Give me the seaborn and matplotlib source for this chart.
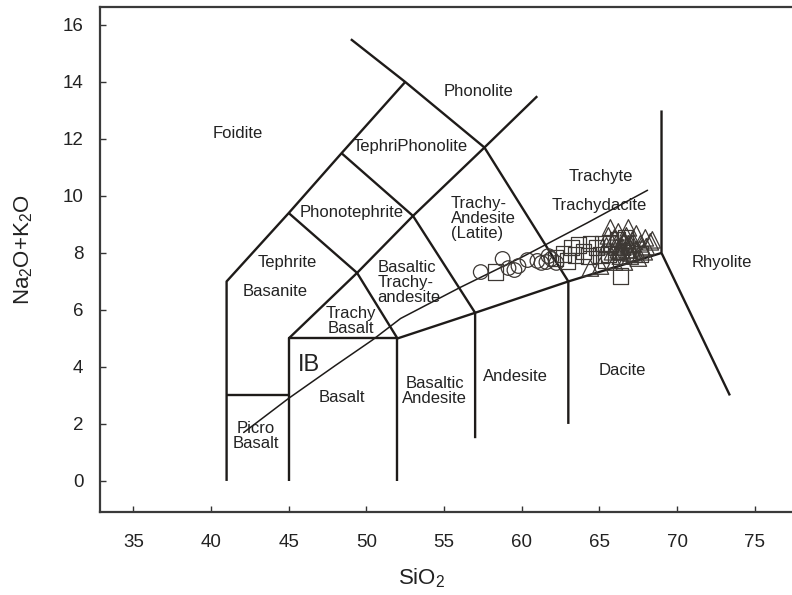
import numpy as np
import pandas as pd
import matplotlib
matplotlib.use("Agg")
import matplotlib.pyplot as plt
import seaborn as sns

# TAS field boundaries (SiO2, Na2O+K2O)
field_lines = [
    [(41, 0), (41, 7), (45, 9.4), (48.4, 11.5), (52.5, 14)],
    [(49, 15.5), (52.5, 14), (57.6, 11.7), (61, 13.5)],
    [(41, 3), (45, 3)],
    [(45, 0), (45, 5), (52, 5), (52, 0)],
    [(45, 9.4), (49.4, 7.3), (53, 9.3), (57.6, 11.7)],
    [(45, 5), (49.4, 7.3), (52, 5)],
    [(52, 5), (57, 5.9), (63, 7), (69, 8)],
    [(48.4, 11.5), (53, 9.3), (57, 5.9), (57, 1.5)],
    [(57.6, 11.7), (63, 7), (63, 2)],
    [(69, 13), (69, 8), (73.4, 3)],
]

# alkaline / subalkaline divide
alk_x = [42.1, 45, 48, 50.4, 52.2, 56, 60, 64.2, 68.1]
alk_y = [1.7, 2.9, 4.05, 4.95, 5.7, 6.78, 7.85, 9.05, 10.2]

field_names = ["Foidite", "Phonolite", "TephriPhonolite", "Phonotephrite",
               "Trachy-\nAndesite\n(Latite)", "Trachyte", "Trachydacite",
               "Tephrite", "Basanite", "Basaltic\nTrachy-\nandesite",
               "Trachy\nBasalt", "Basalt", "Basaltic\nAndesite", "Andesite",
               "Dacite", "Rhyolite", "Picro\nBasalt"]
name_x = [41.74, 57.2, 52.8, 49.04, 55.42, 65.1, 65.0, 44.9, 44.15, 50.7,
          49.0, 48.44, 54.4, 59.6, 66.5, 72.9, 42.9]
name_y = [12.2, 13.68, 11.72, 9.41, 9.21, 10.67, 9.68, 7.68, 6.63, 6.95,
          5.6, 2.92, 3.16, 3.66, 3.89, 7.65, 1.56]
name_ha = ["center"] * 4 + ["left"] + ["center"] * 4 + ["left"] + ["center"] * 7

# samples
circle_x = [57.36, 58.77, 59.15, 59.53, 59.79, 60.37, 61.01, 61.27, 61.59, 61.91, 62.23, 61.72]
circle_y = [7.33, 7.79, 7.47, 7.40, 7.54, 7.75, 7.72, 7.65, 7.68, 7.79, 7.65, 7.89]

square_x = [58.31, 62.17, 62.69, 63.20, 63.65, 63.97, 64.42, 64.81, 65.19, 65.07,
            65.58, 64.29, 63.46, 65.71, 66.35, 66.16, 66.68, 65.39, 67.63, 62.94]
square_y = [7.33, 7.82, 7.96, 8.18, 8.28, 8.04, 8.32, 8.18, 8.32, 7.93,
            7.96, 7.89, 7.93, 8.35, 7.19, 8.46, 8.53, 7.75, 7.96, 7.72]

triangle_x = [65.71, 66.87, 66.22, 67.38, 67.96, 68.28, 67.64, 67.13, 66.61, 65.97,
              65.46, 66.35, 66.87, 67.38, 67.89, 68.41, 65.84, 66.35, 66.99, 67.51,
              66.61, 65.97, 65.07, 64.42, 67.13, 66.74, 66.09, 68.02, 65.58, 66.48,
              67.25, 67.76, 66.87, 66.22, 66.5, 66.9, 66.3, 67.0, 66.6, 66.1]
triangle_y = [8.88, 8.88, 8.74, 8.67, 8.53, 8.39, 8.32, 8.46, 8.39, 8.53,
              8.25, 8.25, 8.11, 8.11, 8.04, 8.46, 8.04, 7.89, 7.89, 7.82,
              7.68, 7.68, 7.54, 7.47, 8.32, 8.60, 8.32, 8.22, 8.60, 8.04,
              7.96, 8.18, 8.32, 8.11, 8.2, 8.25, 8.05, 8.0, 8.45, 8.2]

sns.set_style("ticks")
plt.rcParams['font.family'] = ['Liberation Sans', 'DejaVu Sans']
plt.rcParams['mathtext.default'] = 'regular'

fig = plt.figure(figsize=(7.92, 5.95), dpi=100)
ax = fig.add_axes([100 / 792, 1 - 512 / 595, 692 / 792, 505 / 595])

line_col = "#1e1b19"
for pts in field_lines:
    xs, ys = zip(*pts)
    ax.plot(xs, ys, color=line_col, lw=1.7, solid_capstyle="butt")
ax.plot(alk_x, alk_y, color=line_col, lw=1.1)

for name, x, y, ha in zip(field_names, name_x, name_y, name_ha):
    ax.text(x, y, name, ha=ha, va="center", fontsize=12, color="#222222",
            linespacing=1.0)
ax.text(46.3, 4.07, "IB", ha="center", va="center", fontsize=17, color="#222222")

mk_col = "#3d3834"
sns.scatterplot(x=circle_x, y=circle_y, marker="o", s=110, facecolors="none",
                edgecolor=mk_col, linewidth=0.9, ax=ax, zorder=3)
sns.scatterplot(x=square_x, y=square_y, marker="s", s=120, facecolors="none",
                edgecolor=mk_col, linewidth=0.9, ax=ax, zorder=3)
sns.scatterplot(x=triangle_x, y=triangle_y, marker="^", s=140, facecolors="none",
                edgecolor=mk_col, linewidth=0.9, ax=ax, zorder=3)

ax.set_xlim(32.85, 77.4)
ax.set_ylim(-1.09, 16.63)
ax.set_xticks(np.arange(35, 80, 5))
ax.set_yticks(np.arange(0, 18, 2))
ax.tick_params(direction="in", length=4, width=1, colors="#333333",
               labelsize=13.5, labelcolor="#222222")
ax.tick_params(axis="x", pad=16)
ax.tick_params(axis="y", pad=12)
for side in ["left", "bottom", "top"]:
    ax.spines[side].set_color("#3a3a3a")
    ax.spines[side].set_linewidth(1.6)
ax.spines["right"].set_visible(False)

ax.set_xlabel("SiO$_2$", fontsize=16, color="#222222")
ax.set_ylabel("Na$_2$O+K$_2$O", fontsize=16, color="#222222")
ax.xaxis.set_label_coords(0.465, -0.108)
ax.yaxis.set_label_coords(-0.094, 0.52)

plt.savefig("out.png", dpi=100)
